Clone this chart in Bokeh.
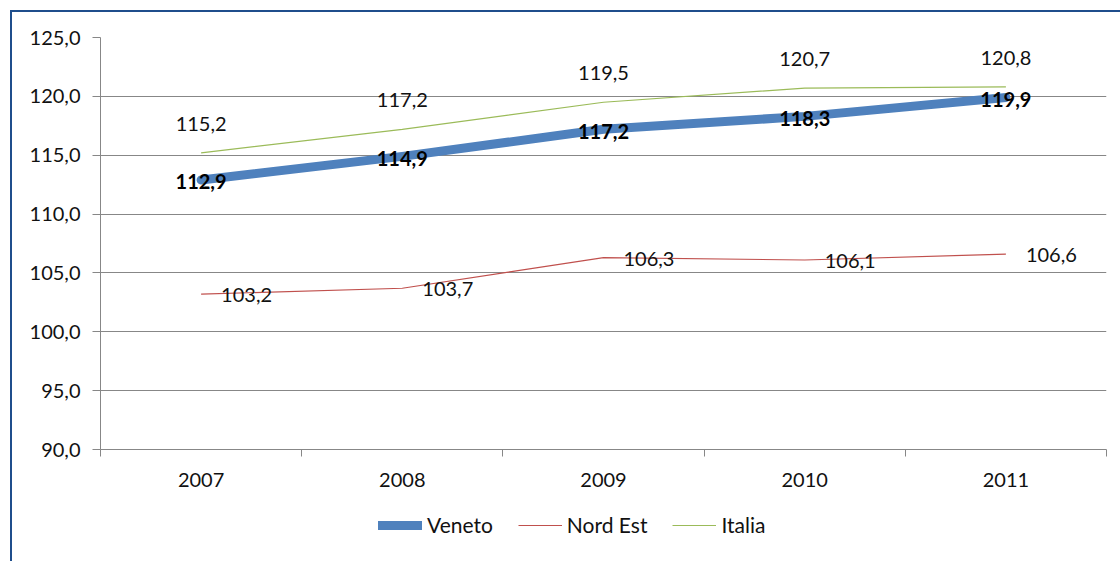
from bokeh.plotting import figure
from bokeh.layouts import column
from bokeh.models import FixedTicker, Legend, LegendItem, Range1d, InlineStyleSheet
from bokeh.core.properties import value
from bokeh.embed import file_html
from bokeh.resources import INLINE

years = ["2007", "2008", "2009", "2010", "2011"]
veneto = [112.9, 114.9, 117.2, 118.3, 119.9]
nord_est = [103.2, 103.7, 106.3, 106.1, 106.6]
italia = [115.2, 117.2, 119.5, 120.7, 120.8]
y_ticks = [90, 95, 100, 105, 110, 115, 120, 125]
series_names = ["Veneto", "Nord Est", "Italia"]


def fmt(v):
    return f"{v:.1f}".replace(".", ",")


x = [i + 0.5 for i in range(len(years))]
bounds = list(range(len(years) + 1))

FONT = "Lato"
GRID = "#878787"
C_V, C_N, C_I = "#4F81BD", "#C0504D", "#9BBB59"

p = figure(width=1108, height=487, x_range=Range1d(0, len(years)), y_range=Range1d(90, 125),
           output_backend="svg", toolbar_location=None,
           min_border_left=88, min_border_right=14, min_border_top=25, min_border_bottom=50)
p.outline_line_color = None
p.background_fill_color = "white"
p.border_fill_color = "white"

# axes
p.yaxis.ticker = FixedTicker(ticks=y_ticks)
p.yaxis.major_label_overrides = {t: fmt(t) for t in y_ticks}
p.yaxis.minor_tick_line_color = None
p.yaxis.major_tick_out = 8
p.yaxis.major_tick_in = 0
p.yaxis.major_label_standoff = 12
p.yaxis.axis_line_color = GRID
p.yaxis.major_tick_line_color = GRID

p.xaxis.ticker = FixedTicker(ticks=x, minor_ticks=bounds)
p.xaxis.major_label_overrides = {xi: yr for xi, yr in zip(x, years)}
p.xaxis.major_tick_line_color = None
p.xaxis.major_tick_out = 0
p.xaxis.major_tick_in = 0
p.xaxis.minor_tick_out = 7
p.xaxis.minor_tick_in = 0
p.xaxis.minor_tick_line_color = GRID
p.xaxis.axis_line_color = GRID
p.xaxis.major_label_standoff = 16

for ax in (p.xaxis, p.yaxis):
    ax.major_label_text_font = FONT
    ax.major_label_text_font_size = "20px"
    ax.major_label_text_color = "#111111"

p.xgrid.visible = False
p.ygrid.ticker = FixedTicker(ticks=y_ticks)
p.ygrid.grid_line_color = GRID
p.ygrid.grid_line_alpha = 1.0

# lines
p.line(x, veneto, line_width=9, color=C_V, line_cap="round", line_join="round")
p.line(x, nord_est, line_width=1.2, color=C_N)
p.line(x, italia, line_width=1.2, color=C_I)

# labels
p.text(x=x, y=veneto, text=[fmt(v) for v in veneto], text_font=value(FONT), text_font_style="bold",
       text_font_size="20px", text_align="center", text_baseline="middle", y_offset=2, text_color="black")
p.text(x=x, y=nord_est, text=[fmt(v) for v in nord_est], text_font=value(FONT),
       text_font_size="20px", text_align="left", text_baseline="middle", x_offset=20, y_offset=1,
       text_color="#111111")
p.text(x=x, y=italia, text=[fmt(v) for v in italia], text_font=value(FONT),
       text_font_size="20px", text_align="center", text_baseline="middle", y_offset=-29,
       text_color="#111111")

# legend strip (its lines use the same series but lie outside this strip's ranges)
p2 = figure(width=1108, height=62, x_range=Range1d(0, 1), y_range=Range1d(0, 1),
            output_backend="svg", toolbar_location=None,
            min_border_left=0, min_border_right=0, min_border_top=0, min_border_bottom=0)
p2.axis.visible = False
p2.grid.visible = False
p2.outline_line_color = None
p2.border_fill_color = "white"
l_v = p2.line(x, veneto, line_width=9, color=C_V, line_cap="round")
l_n = p2.line(x, nord_est, line_width=1.2, color=C_N)
l_i = p2.line(x, italia, line_width=1.2, color=C_I)

legend = Legend(items=[LegendItem(label=series_names[0], renderers=[l_v]),
                       LegendItem(label=series_names[1], renderers=[l_n]),
                       LegendItem(label=series_names[2], renderers=[l_i])],
                orientation="horizontal", location=(278, 24),
                border_line_color=None, background_fill_alpha=0,
                label_text_font=FONT, label_text_font_size="21px", label_text_color="#111111",
                glyph_width=44, glyph_height=20, spacing=25, label_standoff=5,
                padding=0, margin=0)
p2.add_layout(legend, "center")

layout = column(p, p2, spacing=0)
layout.stylesheets = [InlineStyleSheet(css=":host { margin-left: 10px; margin-top: 10px; "
                                           "border-left: 2px solid #1F4E8C; border-top: 2px solid #1F4E8C; }")]

open("out.html", "w").write(file_html(layout, INLINE))
